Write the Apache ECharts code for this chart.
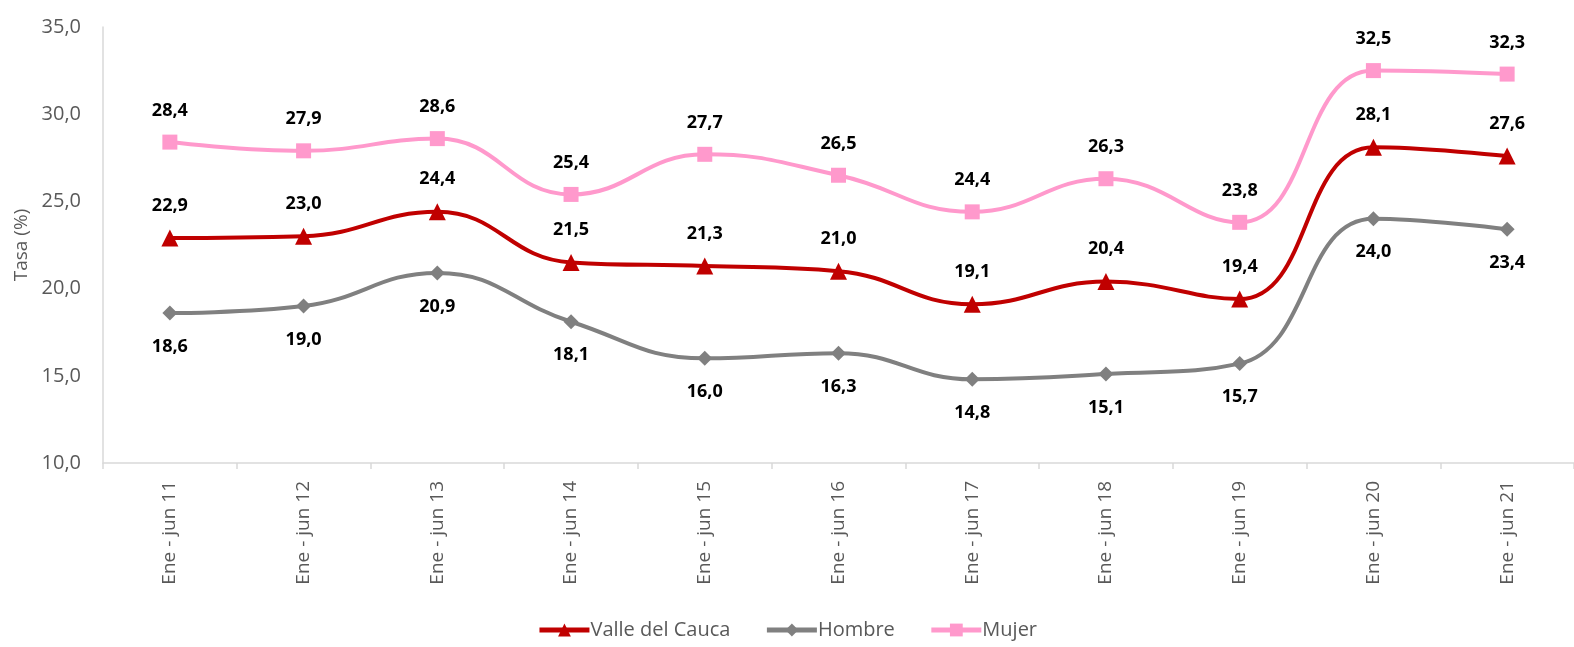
<!DOCTYPE html>
<html>
<head>
    <meta charset="utf-8">
    <title>Tasa</title>
    <script type="text/javascript" src="https://cdn.jsdelivr.net/npm/echarts@6/dist/echarts.min.js"></script>
    <style>
        body { margin: 0; background: #fff; }
    </style>
</head>
<body>
<div id="chartmain" style="width:1574px; height:647px;"></div>
<script type="text/javascript">
    var categorias = ["Ene - jun 11","Ene - jun 12","Ene - jun 13","Ene - jun 14","Ene - jun 15","Ene - jun 16","Ene - jun 17","Ene - jun 18","Ene - jun 19","Ene - jun 20","Ene - jun 21"];
    var valle = [22.9, 23.0, 24.4, 21.5, 21.3, 21.0, 19.1, 20.4, 19.4, 28.1, 27.6];
    var hombre = [18.6, 19.0, 20.9, 18.1, 16.0, 16.3, 14.8, 15.1, 15.7, 24.0, 23.4];
    var mujer = [28.4, 27.9, 28.6, 25.4, 27.7, 26.5, 24.4, 26.3, 23.8, 32.5, 32.3];

    var fuente = '"Open Sans", sans-serif';
    function coma(p) { return p.value.toFixed(1).replace('.', ','); }
    var etiqueta = function (pos, dist) {
        return { show: true, position: pos, distance: dist, formatter: coma,
                 color: '#000', fontWeight: 'bold', fontSize: 18, fontFamily: fuente };
    };

    var option = {
        animation: false,
        grid: { left: 103, right: -3, top: 27, bottom: 184 },
        legend: {
            bottom: 2, left: 'center', itemWidth: 50, itemHeight: 16, itemGap: 34,
            lineStyle: { width: 5 },
            textStyle: { color: '#595959', fontSize: 20, fontFamily: fuente, padding: [0, 0, 0, -4] },
            data: ['Valle del Cauca', 'Hombre', 'Mujer']
        },
        xAxis: {
            type: 'category', data: categorias, boundaryGap: true,
            axisLine: { lineStyle: { color: '#d9d9d9', width: 1.5 } },
            axisTick: { show: true, length: 6, lineStyle: { color: '#d9d9d9', width: 1.5 } },
            axisLabel: { rotate: 90, color: '#595959', fontSize: 19, fontFamily: fuente, margin: 18 }
        },
        yAxis: {
            type: 'value', min: 10, max: 35, interval: 5,
            name: 'Tasa (%)', nameLocation: 'middle', nameGap: 70,
            nameTextStyle: { color: '#595959', fontSize: 19, fontFamily: fuente },
            axisLine: { show: true, lineStyle: { color: '#d9d9d9', width: 1.5 } },
            axisTick: { show: false },
            splitLine: { show: false },
            axisLabel: { color: '#595959', fontSize: 20, fontFamily: fuente, margin: 22,
                formatter: function (v) { return v.toFixed(1).replace('.', ','); } }
        },
        series: [
            { name: 'Valle del Cauca', type: 'line', data: valle, smooth: 0.45,
              symbol: 'triangle', symbolSize: 17,
              lineStyle: { color: '#C00000', width: 4 }, itemStyle: { color: '#C00000' },
              label: etiqueta('top', 15) },
            { name: 'Hombre', type: 'line', data: hombre, smooth: 0.45,
              symbol: 'diamond', symbolSize: 15,
              lineStyle: { color: '#808080', width: 4 }, itemStyle: { color: '#808080' },
              label: etiqueta('bottom', 17) },
            { name: 'Mujer', type: 'line', data: mujer, smooth: 0.45,
              symbol: 'rect', symbolSize: 15,
              lineStyle: { color: '#FF99CC', width: 4 }, itemStyle: { color: '#FF99CC' },
              label: etiqueta('top', 15) }
        ]
    };
    var myChart = echarts.init(document.getElementById('chartmain'));
    myChart.setOption(option);
</script>
</body>
</html>
